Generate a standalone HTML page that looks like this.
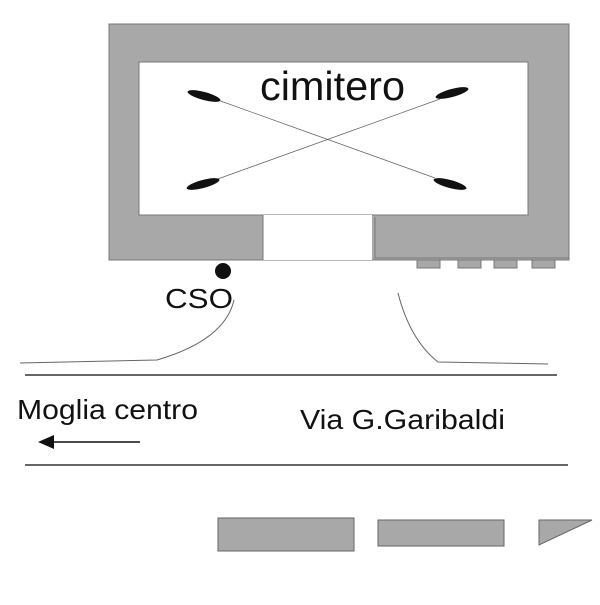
<!DOCTYPE html>
<html><head><meta charset="utf-8"><style>body{margin:0;background:#fff}</style></head><body>
<svg width="600" height="600" viewBox="0 0 600 600" xmlns="http://www.w3.org/2000/svg" font-family="Liberation Sans, sans-serif">
<rect x="109" y="24" width="460" height="236" fill="#a8a8a8" stroke="#777" stroke-width="1"/>
<rect x="139" y="62" width="389" height="153" fill="#fff" stroke="#777" stroke-width="1"/>
<rect x="263" y="215" width="109" height="45" fill="#fff"/>
<line x1="263" y1="215" x2="263" y2="260" stroke="#777"/>
<path d="M375 217 V258 H569" fill="none" stroke="#777"/>
<g fill="#a8a8a8" stroke="#777"><rect x="417" y="260" width="23" height="8"/><rect x="458" y="260" width="23" height="8"/><rect x="494" y="260" width="23" height="8"/><rect x="532" y="260" width="23" height="8"/></g>
<line x1="215" y1="99" x2="435" y2="178" stroke="#666" stroke-width="0.8"/>
<line x1="215" y1="180" x2="440" y2="99" stroke="#666" stroke-width="0.8"/>
<g fill="#111">
<ellipse cx="204" cy="96" rx="17" ry="4" transform="rotate(15 204 96)"/>
<ellipse cx="203" cy="184" rx="17" ry="4" transform="rotate(-15 203 184)"/>
<ellipse cx="452" cy="93" rx="17" ry="4" transform="rotate(-15 452 93)"/>
<ellipse cx="450" cy="184" rx="17" ry="4" transform="rotate(15 450 184)"/>
</g>
<text x="260" y="100" font-size="41" textLength="145" lengthAdjust="spacingAndGlyphs" fill="#111">cimitero</text>
<circle cx="223" cy="271" r="8" fill="#111"/>
<text x="165" y="308" font-size="28" textLength="68" lengthAdjust="spacingAndGlyphs" fill="#111">CSO</text>
<path d="M20 363 L157 360 Q225 340 234 300" fill="none" stroke="#666"/>
<path d="M398 293 Q410 340 438 362 L548 364" fill="none" stroke="#666"/>
<line x1="25" y1="375" x2="557" y2="375" stroke="#333" stroke-width="1.5"/>
<line x1="25" y1="465" x2="568" y2="465" stroke="#333" stroke-width="1.5"/>
<text x="17" y="419" font-size="28" textLength="181" lengthAdjust="spacingAndGlyphs" fill="#111">Moglia centro</text>
<text x="300" y="429" font-size="28" textLength="205" lengthAdjust="spacingAndGlyphs" fill="#111">Via G.Garibaldi</text>
<line x1="52" y1="442" x2="140" y2="442" stroke="#111" stroke-width="1.5"/>
<polygon points="38,442 54,435 54,449" fill="#111"/>
<g fill="#a8a8a8" stroke="#666">
<rect x="218" y="518" width="136" height="33"/>
<rect x="378" y="520" width="126" height="26"/>
<polygon points="539,520 592,520 539,545"/>
</g>
</svg>
</body></html>
